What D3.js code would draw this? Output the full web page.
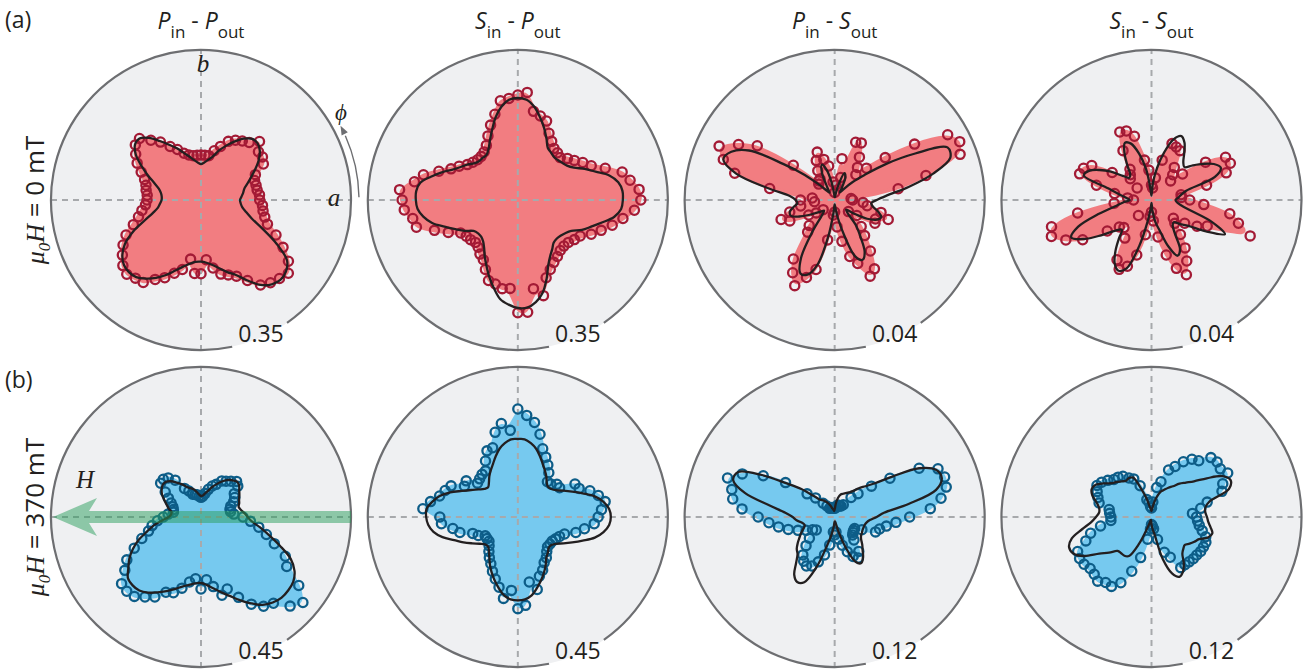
<!DOCTYPE html>
<html>
<head>
<meta charset="utf-8">
<script src="https://cdn.jsdelivr.net/npm/d3@7"></script>
<style>
  body { margin: 0; background: #fff; }
  svg { display: block; }
</style>
</head>
<body>
<svg id="chart" width="1311" height="670"></svg>
<script>
// Azimuthal angle phi of the measurement (degrees, counter-clockwise from the a axis)
const phiDeg = [0,5,10,15,20,25,30,35,40,45,50,55,60,65,70,75,80,85,90,95,100,105,110,115,
  120,125,130,135,140,145,150,155,160,165,170,175,180,185,190,195,200,205,210,215,220,225,230,235,
  240,245,250,255,260,265,270,275,280,285,290,295,300,305,310,315,320,325,330,335,340,345,350,355];

// Row (a): mu0H = 0 mT
const ppA_meas = [.137,.137,.133,.133,.133,.140,.168,.175,.175,.193,.175,.168,
  .161,.151,.133,.119,.105,.105,.105,.105,.105,.109,.116,.130,
  .144,.165,.182,.203,.200,.186,.172,.154,.140,.133,.130,.126,
  .126,.130,.140,.151,.168,.193,.210,.224,.238,.245,.238,.235,
  .214,.200,.182,.168,.140,.172,.172,.140,.161,.179,.186,.196,
  .217,.242,.252,.259,.266,.249,.221,.193,.165,.154,.147,.144];
const ppA_fit = [.091,.095,.100,.105,.116,.130,.147,.165,.179,.187,.186,.175,
  .158,.140,.123,.105,.095,.088,.084,.088,.095,.105,.117,.133,
  .149,.168,.189,.203,.201,.186,.161,.137,.116,.102,.095,.092,
  .092,.096,.102,.116,.140,.175,.205,.224,.235,.238,.235,.224,
  .210,.193,.175,.161,.151,.145,.144,.147,.154,.165,.179,.193,
  .217,.242,.257,.263,.259,.245,.203,.158,.126,.109,.098,.093];

const spA_meas = [.287,.284,.266,.252,.217,.189,.175,.161,.151,.140,.144,.147,
  .158,.172,.196,.203,.210,.252,.245,.238,.235,.207,.186,.165,
  .147,.137,.133,.133,.137,.144,.158,.172,.196,.228,.245,.277,
  .270,.266,.249,.245,.207,.179,.154,.147,.144,.140,.144,.154,
  .161,.179,.200,.203,.210,.207,.263,.263,.210,.231,.193,.179,
  .168,.161,.154,.152,.154,.161,.168,.189,.207,.228,.249,.273];
const spA_fit = [.245,.245,.238,.221,.193,.172,.151,.140,.135,.132,.131,.135,
  .140,.158,.179,.200,.221,.235,.238,.235,.221,.200,.175,.154,
  .137,.128,.128,.128,.133,.144,.154,.168,.189,.210,.231,.238,
  .238,.235,.224,.207,.182,.161,.144,.126,.121,.121,.126,.137,
  .154,.172,.193,.214,.235,.245,.252,.252,.242,.224,.196,.168,
  .151,.140,.130,.128,.130,.135,.144,.165,.182,.203,.228,.242];

const psA_meas = [.0048,.0044,.0172,.0252,.0356,.0368,.0348,.0260,.0176,.0120,.0088,.0106,
  .0132,.0168,.0164,.0062,.0112,.0040,.0020,.0048,.0092,.0112,.0136,.0116,
  .0090,.0068,.0066,.0060,.0144,.0252,.0296,.0340,.0316,.0276,.0176,.0060,
  .0091,.0054,.0092,.0124,.0152,.0132,.0080,.0060,.0040,.0096,.0112,.0192,
  .0224,.0252,.0220,.0192,.0108,.0040,.0032,.0072,.0112,.0156,.0180,.0224,
  .0212,.0166,.0124,.0100,.0048,.0072,.0124,.0120,.0152,.0128,.0088,.0076];
const psA_fit = [.0112,.0140,.0200,.0272,.0328,.0332,.0248,.0168,.0104,.0068,.0040,.0024,
  .0040,.0068,.0076,.0048,.0020,.0008,.0008,.0016,.0048,.0084,.0100,.0080,
  .0040,.0024,.0032,.0056,.0104,.0168,.0264,.0304,.0316,.0272,.0180,.0120,
  .0104,.0100,.0112,.0124,.0124,.0104,.0080,.0060,.0048,.0040,.0052,.0104,
  .0180,.0216,.0212,.0180,.0100,.0032,.0012,.0020,.0048,.0096,.0160,.0176,
  .0160,.0120,.0088,.0048,.0040,.0064,.0100,.0124,.0132,.0120,.0104,.0098];

const ssA_meas = [.0102,.0080,.0080,.0152,.0212,.0232,.0228,.0176,.0108,.0072,.0088,.0106,
  .0152,.0156,.0160,.0110,.0060,.0032,.0040,.0080,.0108,.0176,.0196,.0200,
  .0152,.0100,.0088,.0080,.0050,.0128,.0184,.0200,.0204,.0152,.0100,.0064,
  .0048,.0100,.0200,.0276,.0284,.0252,.0212,.0144,.0112,.0104,.0054,.0124,
  .0184,.0204,.0188,.0152,.0094,.0044,.0032,.0056,.0100,.0152,.0194,.0220,
  .0188,.0156,.0120,.0088,.0076,.0108,.0140,.0164,.0280,.0240,.0212,.0140];
const ssA_fit = [.0064,.0072,.0080,.0096,.0180,.0204,.0192,.0168,.0144,.0124,.0132,.0152,
  .0176,.0188,.0172,.0132,.0088,.0048,.0012,.0028,.0084,.0128,.0160,.0168,
  .0144,.0112,.0088,.0084,.0100,.0132,.0160,.0184,.0192,.0120,.0088,.0068,
  .0058,.0076,.0100,.0148,.0208,.0236,.0208,.0164,.0128,.0112,.0136,.0168,
  .0196,.0208,.0194,.0128,.0056,.0020,.0008,.0028,.0060,.0084,.0132,.0164,
  .0152,.0108,.0088,.0084,.0100,.0120,.0168,.0216,.0172,.0108,.0080,.0068];

// Row (b): mu0H = 370 mT
const ppB_meas = [.126,.099,.090,.090,.095,.108,.117,.122,.144,.151,.140,.131,
  .125,.108,.099,.086,.072,.063,.059,.063,.068,.070,.073,.086,
  .099,.135,.153,.160,.158,.131,.113,.099,.090,.086,.084,.099,
  .113,.131,.149,.163,.189,.221,.257,.279,.311,.315,.311,.293,
  .277,.249,.242,.221,.198,.186,.216,.189,.212,.243,.230,.266,
  .302,.327,.338,.378,.399,.358,.297,.279,.234,.203,.176,.149];
const ppB_fit = [.140,.131,.122,.117,.122,.126,.133,.140,.149,.151,.144,.135,
  .122,.108,.095,.081,.072,.065,.063,.068,.077,.086,.092,.099,
  .113,.126,.140,.149,.150,.144,.135,.122,.110,.101,.090,.090,
  .097,.117,.144,.167,.198,.225,.248,.266,.286,.290,.288,.277,
  .261,.245,.230,.216,.207,.200,.198,.205,.218,.234,.252,.275,
  .299,.322,.335,.342,.342,.338,.324,.297,.252,.212,.180,.153];

const spB_meas = [.241,.252,.266,.250,.230,.203,.198,.153,.153,.140,.138,.162,
  .180,.198,.218,.257,.288,.306,.324,.261,.285,.263,.221,.219,
  .194,.169,.167,.162,.158,.189,.185,.221,.232,.243,.266,.286,
  .234,.230,.198,.180,.144,.131,.113,.113,.113,.122,.135,.149,
  .162,.180,.198,.218,.248,.221,.275,.266,.198,.225,.189,.176,
  .158,.149,.135,.126,.126,.126,.131,.138,.149,.180,.203,.230];
const spB_fit = [.279,.275,.261,.239,.207,.180,.158,.140,.131,.128,.135,.149,
  .162,.176,.194,.212,.225,.234,.234,.234,.225,.212,.194,.176,
  .162,.149,.135,.126,.131,.144,.162,.185,.216,.243,.261,.275,
  .275,.270,.257,.234,.203,.180,.158,.140,.128,.126,.135,.149,
  .167,.185,.203,.221,.239,.248,.250,.248,.239,.221,.203,.185,
  .167,.149,.140,.131,.131,.140,.158,.180,.207,.239,.261,.275];

const psB_meas = [.0600,.0768,.0864,.0924,.0936,.0912,.0780,.0540,.0384,.0264,.0204,.0120,
  .0102,.0098,.0096,.0100,.0084,.0072,.0070,.0072,.0074,.0078,.0079,.0080,
  .0080,.0108,.0144,.0216,.0288,.0480,.0660,.0816,.0912,.0852,.0828,.0744,
  .0612,.0528,.0456,.0384,.0312,.0252,.0204,.0180,.0264,.0324,.0396,.0432,
  .0452,.0432,.0382,.0314,.0228,.0120,.0144,.0120,.0180,.0234,.0296,.0348,
  .0379,.0336,.0240,.0204,.0192,.0186,.0184,.0240,.0348,.0372,.0420,.0492];
const psB_fit = [.0336,.0396,.0600,.0840,.0912,.0894,.0780,.0564,.0420,.0348,.0300,.0252,
  .0228,.0210,.0198,.0186,.0156,.0108,.0060,.0048,.0060,.0072,.0096,.0120,
  .0144,.0162,.0180,.0240,.0348,.0468,.0672,.0852,.0864,.0744,.0528,.0396,
  .0336,.0306,.0264,.0248,.0264,.0294,.0324,.0360,.0396,.0420,.0480,.0564,
  .0600,.0576,.0432,.0240,.0144,.0072,.0036,.0036,.0054,.0132,.0264,.0396,
  .0426,.0396,.0348,.0312,.0276,.0258,.0252,.0246,.0246,.0248,.0258,.0282];

const ssB_meas = [.0360,.0329,.0400,.0461,.0600,.0629,.0704,.0672,.0685,.0672,.0588,.0564,
  .0510,.0446,.0400,.0292,.0240,.0120,.0072,.0084,.0120,.0144,.0266,.0336,
  .0360,.0398,.0416,.0425,.0456,.0486,.0504,.0480,.0456,.0434,.0344,.0336,
  .0325,.0326,.0414,.0504,.0559,.0652,.0664,.0659,.0641,.0648,.0670,.0640,
  .0641,.0580,.0462,.0336,.0180,.0096,.0060,.0072,.0096,.0186,.0300,.0355,
  .0468,.0466,.0468,.0473,.0473,.0480,.0480,.0480,.0462,.0420,.0388,.0370];
const ssB_fit = [.0444,.0432,.0438,.0480,.0660,.0698,.0654,.0540,.0444,.0389,.0348,.0300,
  .0270,.0240,.0216,.0168,.0114,.0072,.0048,.0060,.0084,.0156,.0240,.0348,
  .0360,.0354,.0372,.0396,.0420,.0468,.0516,.0528,.0504,.0456,.0426,.0420,
  .0444,.0486,.0564,.0660,.0702,.0690,.0624,.0510,.0444,.0384,.0378,.0378,
  .0360,.0240,.0084,.0036,.0024,.0036,.0060,.0096,.0144,.0348,.0480,.0528,
  .0504,.0450,.0384,.0360,.0348,.0372,.0396,.0420,.0480,.0504,.0480,.0456];

// Radial limits (outer ring value) and column titles
const rMaxRowA = [0.35, 0.35, 0.04, 0.04];
const rMaxRowB = [0.45, 0.45, 0.12, 0.12];
const polIn  = ["P", "S", "P", "S"];
const polOut = ["P", "P", "S", "S"];
const rowField = ["0", "370"];

const themes = {
  red:  { fill: "#f27d81", dot: "#a31a35" },
  blue: { fill: "#76c9ef", dot: "#0d5d88" }
};

const panels = [
  { row: 0, col: 0, meas: ppA_meas, fit: ppA_fit, rmax: rMaxRowA[0], theme: "red" },
  { row: 0, col: 1, meas: spA_meas, fit: spA_fit, rmax: rMaxRowA[1], theme: "red" },
  { row: 0, col: 2, meas: psA_meas, fit: psA_fit, rmax: rMaxRowA[2], theme: "red" },
  { row: 0, col: 3, meas: ssA_meas, fit: ssA_fit, rmax: rMaxRowA[3], theme: "red" },
  { row: 1, col: 0, meas: ppB_meas, fit: ppB_fit, rmax: rMaxRowB[0], theme: "blue" },
  { row: 1, col: 1, meas: spB_meas, fit: spB_fit, rmax: rMaxRowB[1], theme: "blue" },
  { row: 1, col: 2, meas: psB_meas, fit: psB_fit, rmax: rMaxRowB[2], theme: "blue" },
  { row: 1, col: 3, meas: ssB_meas, fit: ssB_fit, rmax: rMaxRowB[3], theme: "blue" }
];

const SANS = "'Open Sans', 'Noto Sans', sans-serif";
const SERIF = "'Liberation Serif', 'DejaVu Serif', serif";
const INK = "#231f20";
const RING = "#6d6e71";

const svg = d3.select("#chart");
svg.append("rect").attr("width", 1311).attr("height", 670).attr("fill", "#fff");

const R = 150;
const colX = d3.scalePoint().domain([0, 1, 2, 3]).range([201, 1151.5]);
const rowY = d3.scalePoint().domain([0, 1]).range([200, 517]);
// phi (deg, CCW from +a) -> d3 radial angle (rad, CW from 12 o'clock)
const angle = d3.scaleLinear().domain([0, 360]).range([Math.PI / 2, Math.PI / 2 - 2 * Math.PI]);
const rad = d => d * Math.PI / 180;

panels.forEach(p => {
  const th = themes[p.theme];
  const g = svg.append("g").attr("transform", `translate(${colX(p.col)},${rowY(p.row)})`);
  const r = d3.scaleLinear().domain([0, p.rmax]).range([0, R]);
  const meas = phiDeg.map((phi, i) => ({ phi, v: p.meas[i] }));
  const fit = phiDeg.map((phi, i) => ({ phi, v: p.fit[i] }));

  // plot background
  g.append("circle").attr("r", R).attr("fill", "#eff0f2");

  // smoothed envelope of the measured intensity
  const envelope = d3.lineRadial()
    .angle(d => angle(d.phi)).radius(d => r(d.v))
    .curve(d3.curveBasisClosed);
  g.append("path").attr("d", envelope(meas)).attr("fill", th.fill)
    .attr("stroke", th.fill).attr("stroke-width", 4).attr("stroke-linejoin", "round");

  // dashed a / b axes
  const grid = g.append("g").attr("stroke", "#a7a9ac").attr("stroke-width", 2)
    .attr("stroke-dasharray", "6,5");
  grid.append("line").attr("x1", -R).attr("x2", R).attr("y1", 0).attr("y2", 0);
  grid.append("line").attr("y1", -R).attr("y2", R).attr("x1", 0).attr("x2", 0)
    .attr("stroke-dashoffset", 2);

  // measured points
  g.append("g").selectAll("circle").data(meas).join("circle")
    .attr("cx", d => d3.pointRadial(angle(d.phi), r(d.v))[0])
    .attr("cy", d => d3.pointRadial(angle(d.phi), r(d.v))[1])
    .attr("r", 4.6)
    .attr("fill", "none")
    .attr("stroke", th.dot)
    .attr("stroke-width", 2.3);

  // fitted curve
  const fitLine = d3.lineRadial()
    .angle(d => angle(d.phi)).radius(d => r(d.v))
    .curve(d3.curveCatmullRomClosed.alpha(0.5));
  g.append("path").attr("d", fitLine(fit))
    .attr("fill", "none").attr("stroke", INK).attr("stroke-width", 2.3)
    .attr("stroke-linejoin", "round");

  // outer ring, broken where the radial scale label sits
  const ring = d3.path();
  ring.arc(0, 0, R, rad(78), rad(415), false);
  g.append("path").attr("d", ring.toString())
    .attr("fill", "none").attr("stroke", RING).attr("stroke-width", 2.2);
  g.append("text").attr("x", 60).attr("y", 142).attr("text-anchor", "middle")
    .attr("font-family", SANS).attr("font-size", 23).attr("fill", INK)
    .text(d3.format(".2f")(r.domain()[1]));

  // field direction arrow for the in-field P-P panel
  if (p.row === 1 && p.col === 0) {
    const ax = -R + 2, hw = 6, hl = 44, hh = 19;
    const arrow = d3.path();
    arrow.moveTo(ax, 0);
    arrow.lineTo(ax + hl, -hh);
    arrow.lineTo(ax + hl - 8, -hw);
    arrow.lineTo(R, -hw);
    arrow.lineTo(R, hw);
    arrow.lineTo(ax + hl - 8, hw);
    arrow.lineTo(ax + hl, hh);
    arrow.closePath();
    g.append("path").attr("d", arrow.toString())
      .attr("fill", "#2a9d5c").attr("fill-opacity", 0.5);
    g.append("text").attr("x", -116).attr("y", -29).attr("text-anchor", "middle")
      .attr("font-family", SERIF).attr("font-style", "italic").attr("font-size", 25)
      .attr("fill", INK).text("H");
  }

  // crystal axes and rotation sense in the first panel
  if (p.row === 0 && p.col === 0) {
    g.append("text").attr("x", 133).attr("y", 6).attr("text-anchor", "middle")
      .attr("font-family", SERIF).attr("font-style", "italic").attr("font-size", 25)
      .attr("fill", INK).text("a");
    g.append("text").attr("x", 2).attr("y", -128).attr("text-anchor", "middle")
      .attr("font-family", SERIF).attr("font-style", "italic").attr("font-size", 25)
      .attr("fill", INK).text("b");
    const rr = R + 8, a0 = 1, a1 = 24;
    const arc = d3.path();
    arc.arc(0, 0, rr, rad(-a0), rad(-a1), true);
    g.append("path").attr("d", arc.toString()).attr("fill", "none")
      .attr("stroke", RING).attr("stroke-width", 1.4);
    const tipA = rad(28);
    const tip = [rr * Math.cos(tipA), -rr * Math.sin(tipA)];
    const dir = [-Math.sin(tipA), -Math.cos(tipA)];
    const nrm = [dir[1], -dir[0]];
    const base = [tip[0] - 9 * dir[0], tip[1] - 9 * dir[1]];
    g.append("path")
      .attr("d", `M${tip[0]},${tip[1]}L${base[0] + 3.5 * nrm[0]},${base[1] + 3.5 * nrm[1]}L${base[0] - 3.5 * nrm[0]},${base[1] - 3.5 * nrm[1]}Z`)
      .attr("fill", RING);
    g.append("text").attr("x", 140).attr("y", -80).attr("text-anchor", "middle")
      .attr("font-family", SERIF).attr("font-style", "italic").attr("font-size", 23)
      .attr("fill", INK).text("\u03d5");
  }
});

// column titles: input - output polarisation
polIn.forEach((pin, i) => {
  const t = svg.append("text").attr("x", colX(i)).attr("y", 29)
    .attr("text-anchor", "middle").attr("font-family", SANS).attr("font-size", 23)
    .attr("fill", INK);
  t.append("tspan").attr("font-style", "italic").text(pin);
  t.append("tspan").attr("font-size", 17).attr("dy", 9).text("in");
  t.append("tspan").attr("dy", -9).text(" - ");
  t.append("tspan").attr("font-style", "italic").text(polOut[i]);
  t.append("tspan").attr("font-size", 17).attr("dy", 9).text("out");
});

// row labels: applied field
rowField.forEach((f, i) => {
  const t = svg.append("text")
    .attr("transform", `translate(44,${rowY(i)}) rotate(-90)`)
    .attr("text-anchor", "middle").attr("font-size", 26).attr("fill", INK)
    .attr("font-family", SANS);
  t.append("tspan").attr("font-family", SERIF).attr("font-style", "italic").text("\u03bc");
  t.append("tspan").attr("font-family", SERIF).attr("font-style", "italic")
    .attr("font-size", 17).attr("dy", 6).text("0");
  t.append("tspan").attr("font-family", SERIF).attr("font-style", "italic")
    .attr("dy", -6).text("H");
  t.append("tspan").text(` = ${f} mT`);
});

// panel row tags
["(a)", "(b)"].forEach((s, i) => {
  svg.append("text").attr("x", 5).attr("y", i === 0 ? 28 : 388)
    .attr("font-family", SANS).attr("font-size", 23).attr("fill", INK).text(s);
});
</script>
</body>
</html>
